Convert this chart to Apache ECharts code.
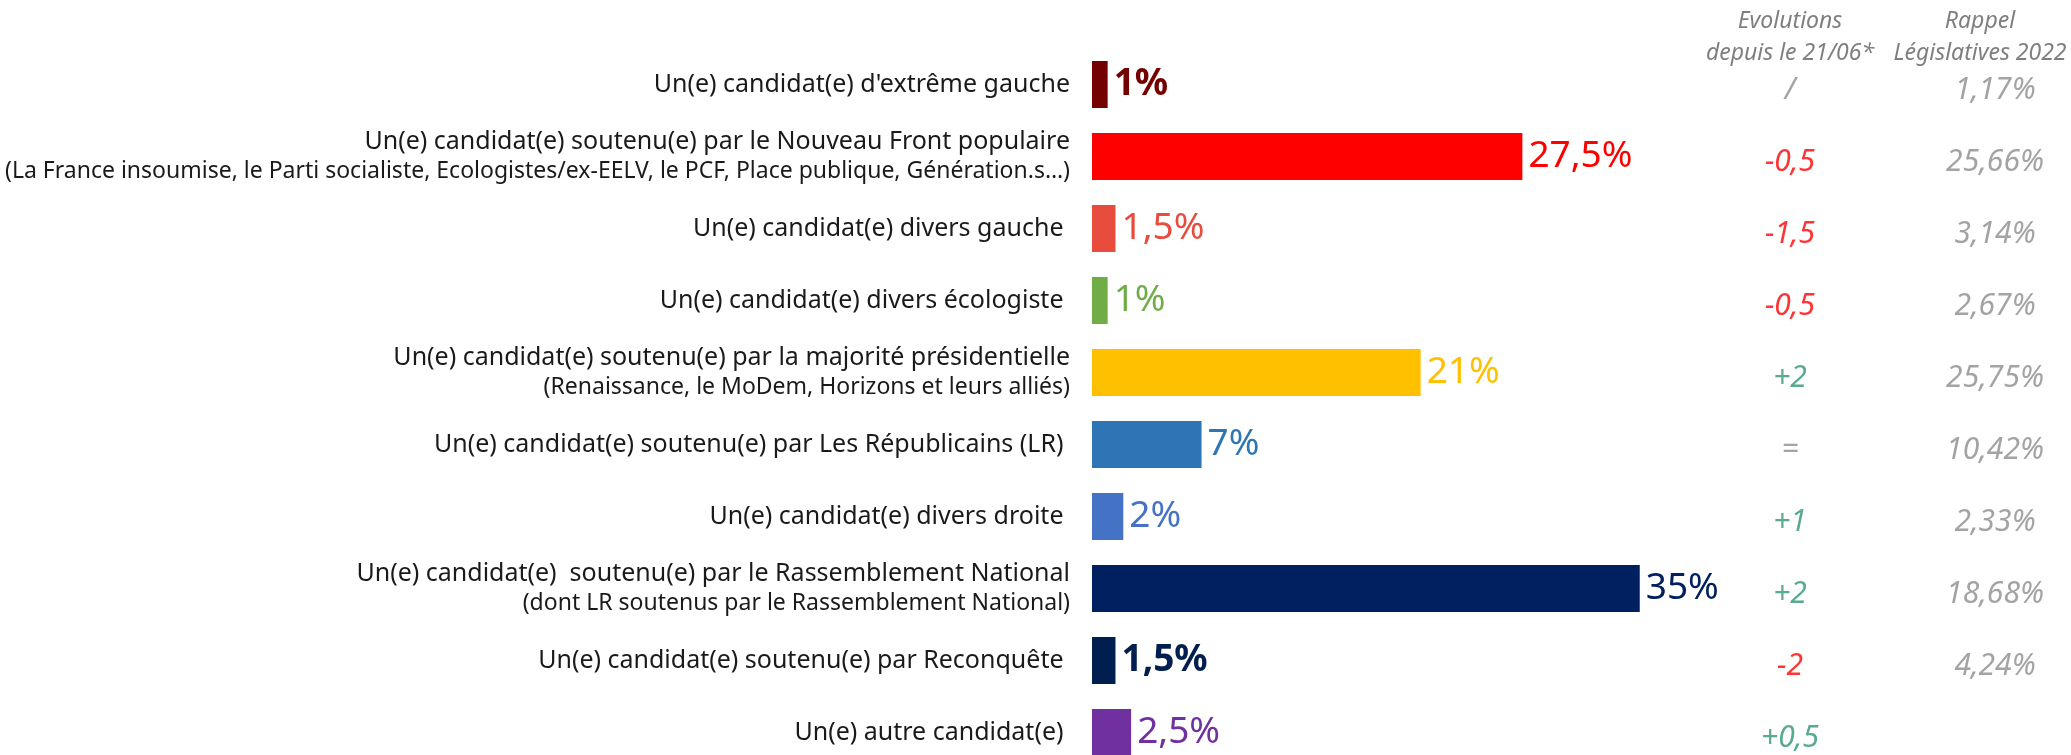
<!DOCTYPE html>
<html>
<head>
<meta charset="utf-8">
<style>
    html, body { margin: 0; padding: 0; background: #ffffff; }
    #chart { width: 2071px; height: 755px; }
</style>
<script src="https://cdn.jsdelivr.net/npm/echarts@6/dist/echarts.min.js"></script>
</head>
<body>
<div id="chart"></div>
<script>
    // intitulés des lignes (ligne principale + précision éventuelle)
    var categories = [
        "Un(e) candidat(e) d'extrême gauche",
        'Un(e) candidat(e) soutenu(e) par le Nouveau Front populaire',
        'Un(e) candidat(e) divers gauche ',
        'Un(e) candidat(e) divers écologiste ',
        'Un(e) candidat(e) soutenu(e) par la majorité présidentielle',
        'Un(e) candidat(e) soutenu(e) par Les Républicains (LR) ',
        'Un(e) candidat(e) divers droite ',
        'Un(e) candidat(e)  soutenu(e) par le Rassemblement National',
        'Un(e) candidat(e) soutenu(e) par Reconquête ',
        'Un(e) autre candidat(e) '
    ];
    var subtitles = [
        '',
        '(La France insoumise, le Parti socialiste, Ecologistes/ex-EELV, le PCF, Place publique, Génération.s…)',
        '',
        '',
        '(Renaissance, le MoDem, Horizons et leurs alliés)',
        '',
        '',
        '(dont LR soutenus par le Rassemblement National)',
        '',
        ''
    ];
    var values = [1, 27.5, 1.5, 1, 21, 7, 2, 35, 1.5, 2.5];
    var evolutions = ['/', '-0,5', '-1,5', '-0,5', '+2', '=', '+1', '+2', '-2', '+0,5'];
    var rappel = ['1,17%', '25,66%', '3,14%', '2,67%', '25,75%', '10,42%', '2,33%', '18,68%', '4,24%', ''];
    var columnHeaders = ['Evolutions\ndepuis le 21/06*', 'Rappel\nLégislatives 2022'];
    var barColors = ['#750000', '#FF0000', '#E84C3D', '#70AD47', '#FFC000', '#2E75B6', '#4472C4', '#002060', '#001E50', '#7030A0'];
    var boldLabels = [true, false, false, false, false, false, false, false, true, false];

    var font = "'Noto Sans', 'Open Sans', sans-serif";

    function evoColor (txt) {
        if (txt.charAt(0) === '-') return '#FF0000';
        if (txt.charAt(0) === '+') return '#2E9670';
        return '#8C8C8C';
    }

    var barData = values.map(function (v, i) {
        return {
            value: v,
            itemStyle: { color: barColors[i] },
            label: {
                color: barColors[i],
                fontWeight: boldLabels[i] ? 'bold' : 'normal'
            }
        };
    });

    var tableData = [];
    categories.forEach(function (c, i) {
        tableData.push({
            value: [0, i],
            txt: evolutions[i],
            label: { color: evoColor(evolutions[i]) }
        });
        tableData.push({
            value: [1, i],
            txt: rappel[i],
            label: { color: '#8C8C8C' }
        });
    });

    var chart = echarts.init(document.getElementById('chart'));
    chart.setOption({
        animation: false,
        textStyle: { fontFamily: font },
        grid: [
            { left: 1092, top: 48.5, width: 626, height: 720, containLabel: false, outerBoundsMode: 'none' },
            { left: 1687.5, top: 48.5, width: 410, height: 720, containLabel: false, outerBoundsMode: 'none' }
        ],
        xAxis: [
            {
                gridIndex: 0,
                type: 'value',
                min: 0,
                max: 40,
                show: false
            },
            {
                gridIndex: 1,
                type: 'category',
                position: 'top',
                data: columnHeaders,
                axisLine: { show: false },
                axisTick: { show: false },
                splitLine: { show: false },
                axisLabel: {
                    interval: 0,
                    margin: -21,
                    formatter: function (value, idx) {
                        var key = idx === 1 ? 'r' : 'h';
                        return value.split('\n').map(function (line) {
                            return '{' + key + '|' + line + '}';
                        }).join('\n');
                    },
                    rich: {
                        h: { fontFamily: font, fontStyle: 'italic', fontSize: 23, lineHeight: 32, color: '#7F7F7F' },
                        r: { fontFamily: font, fontStyle: 'italic', fontSize: 23, lineHeight: 32, color: '#7F7F7F', padding: [0, 30, 0, 0] }
                    }
                }
            }
        ],
        yAxis: [
            {
                gridIndex: 0,
                type: 'category',
                inverse: true,
                data: categories,
                axisLine: { show: false },
                axisTick: { show: false },
                splitLine: { show: false },
                axisLabel: {
                    interval: 0,
                    margin: 22,
                    color: '#1A1A1A',
                    formatter: function (value, idx) {
                        if (subtitles[idx]) {
                            return '{a|' + value + '}\n{b|' + subtitles[idx] + '}';
                        }
                        return '{a|' + value + '}';
                    },
                    rich: {
                        a: { fontFamily: font, fontSize: 25, lineHeight: 30, color: '#1A1A1A' },
                        b: { fontFamily: font, fontSize: 23, lineHeight: 30, color: '#1A1A1A' }
                    }
                }
            },
            {
                gridIndex: 1,
                type: 'category',
                inverse: true,
                data: categories,
                show: false
            }
        ],
        series: [
            {
                type: 'bar',
                xAxisIndex: 0,
                yAxisIndex: 0,
                barWidth: 47,
                data: barData,
                label: {
                    show: true,
                    position: 'right',
                    distance: 6,
                    fontFamily: font,
                    fontSize: 37,
                    formatter: function (p) {
                        return String(p.value).replace('.', ',') + '%';
                    }
                }
            },
            {
                type: 'scatter',
                xAxisIndex: 1,
                yAxisIndex: 1,
                symbolSize: 1,
                silent: true,
                itemStyle: { color: 'rgba(0,0,0,0)' },
                data: tableData,
                label: {
                    show: true,
                    position: 'inside',
                    offset: [0, 6],
                    fontFamily: font,
                    fontStyle: 'italic',
                    fontSize: 30,
                    formatter: function (p) {
                        return p.data.txt;
                    }
                }
            }
        ]
    });
</script>
</body>
</html>
